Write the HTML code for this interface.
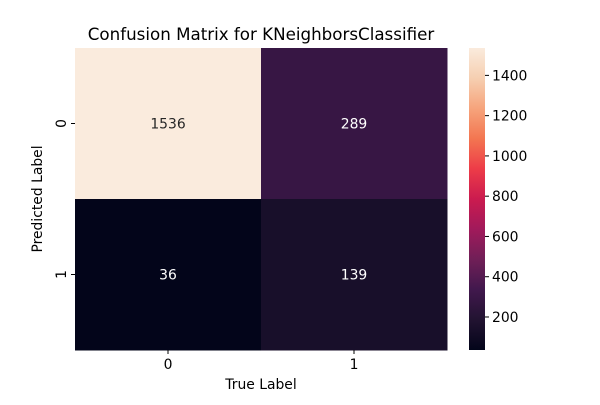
<!DOCTYPE html>
<html><head><meta charset="utf-8"><style>
html,body{margin:0;padding:0;background:#fff;}
svg text{font-family:"DejaVu Sans","Liberation Sans",sans-serif;}
</style></head><body>
<svg id="chart" width="600" height="400" xmlns="http://www.w3.org/2000/svg">
<defs>
<linearGradient id="rocket" x1="0" y1="1" x2="0" y2="0">
<stop offset="0" stop-color="#03051a"/><stop offset="0.1" stop-color="#221331"/>
<stop offset="0.2" stop-color="#41184d"/><stop offset="0.3" stop-color="#701f57"/>
<stop offset="0.4" stop-color="#a11a5b"/><stop offset="0.5" stop-color="#cb1b4f"/>
<stop offset="0.6" stop-color="#ed3c48"/><stop offset="0.7" stop-color="#f37651"/>
<stop offset="0.8" stop-color="#f6a47c"/><stop offset="0.9" stop-color="#f6cfb1"/>
<stop offset="1" stop-color="#faebdd"/>
</linearGradient>
</defs>
<text x="261" y="40" font-size="16.7" text-anchor="middle">Confusion Matrix for KNeighborsClassifier</text>
<g id="cells"></g>
<g id="cbar"></g>
<text x="261" y="389" font-size="13.9" text-anchor="middle">True Label</text>
<text transform="translate(42,199) rotate(-90)" font-size="13.9" text-anchor="middle">Predicted Label</text>
</svg>
<script>
const xCategories = ["0","1"];
const yCategories = ["0","1"];
const matrixValues = [[1536,289],[36,139]];
const cbarTicks = [200,400,600,800,1000,1200,1400];
const vmin = 36, vmax = 1536;

const NS="http://www.w3.org/2000/svg";
const svg=document.getElementById('chart');
const X0=75,X1=447,Y0=48,Y1=350;
const cw=(X1-X0)/xCategories.length, ch=(Y1-Y0)/yCategories.length;
const stops=[[0,"#03051a"],[0.1,"#221331"],[0.2,"#41184d"],[0.3,"#701f57"],[0.4,"#a11a5b"],[0.5,"#cb1b4f"],[0.6,"#ed3c48"],[0.7,"#f37651"],[0.8,"#f6a47c"],[0.9,"#f6cfb1"],[1,"#faebdd"]];
function hex(h){return [1,3,5].map(i=>parseInt(h.substr(i,2),16));}
function cmap(v){
  let t=Math.max(0,Math.min(1,(v-vmin)/(vmax-vmin)));
  for(let i=0;i<stops.length-1;i++){
    if(t<=stops[i+1][0]){const a=hex(stops[i][1]),b=hex(stops[i+1][1]);const f=(t-stops[i][0])/(stops[i+1][0]-stops[i][0]);
      return 'rgb('+a.map((c,k)=>Math.round(c+(b[k]-c)*f)).join(',')+')';}
  }
  return stops[stops.length-1][1];
}
function mk(tag,attrs,parent,text){const e=document.createElementNS(NS,tag);for(const k in attrs)e.setAttribute(k,attrs[k]);if(text!==undefined)e.textContent=text;(parent||svg).appendChild(e);return e;}
const cells=document.getElementById('cells');
matrixValues.forEach((row,r)=>row.forEach((v,c)=>{
  const rect=mk('rect',{x:X0+c*cw,y:Y0+r*ch,width:cw+0.5,height:ch+0.5,fill:cmap(v)},cells);
  
  
  const t=(v-vmin)/(vmax-vmin);
  const lbl=mk('text',{x:X0+c*cw+cw/2,y:Y0+r*ch+ch/2+5,'font-size':13.9,'text-anchor':'middle',fill:t>0.6?'#262626':'#fff'},cells,String(v));
  
  
}));
xCategories.forEach((c,i)=>{
  const x=X0+i*cw+cw/2;
  mk('line',{x1:x,x2:x,y1:Y1,y2:Y1+4,stroke:'#000'},cells);
  const t=mk('text',{x:x,y:Y1+19,'font-size':13.9,'text-anchor':'middle'},cells,c);
  
  
});
yCategories.forEach((c,i)=>{
  const y=Y0+i*ch+ch/2;
  mk('line',{x1:X0-4,x2:X0,y1:y,y2:y,stroke:'#000'},cells);
  const t=mk('text',{transform:'translate('+(X0-9)+','+y+') rotate(-90)','font-size':13.9,'text-anchor':'middle'},cells,c);
  
  
});
const cb=document.getElementById('cbar');
const CX=469,CW=16;
const bar=mk('rect',{x:CX,y:Y0,width:CW,height:Y1-Y0,fill:'url(#rocket)'},cb);


function cy(v){return Y1-(v-vmin)/(vmax-vmin)*(Y1-Y0);}
cbarTicks.forEach(v=>{
  const y=cy(v);
  mk('line',{x1:CX+CW,x2:CX+CW+4,y1:y,y2:y,stroke:'#000'},cb);
  const t=mk('text',{x:CX+CW+7,y:y+5,'font-size':13.9},cb,String(v));
  
  
});
</script>
</body></html>
